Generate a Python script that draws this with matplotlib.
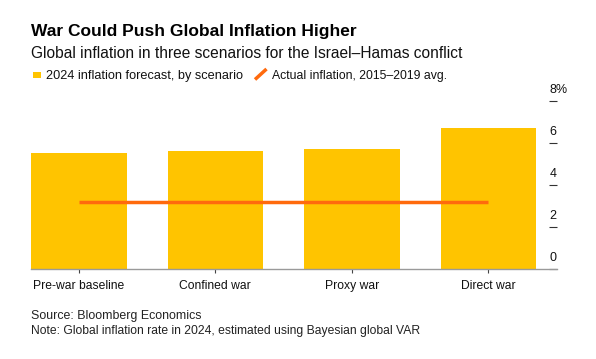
import matplotlib
matplotlib.use("Agg")
import matplotlib.pyplot as plt
from matplotlib.patches import Rectangle
from matplotlib.lines import Line2D
import numpy as np

plt.rcParams['font.family'] = ['Liberation Sans', 'DejaVu Sans']

# ---- data ----
categories = ["Pre-war baseline", "Confined war", "Proxy war", "Direct war"]
forecast_2024 = [5.52, 5.6, 5.7, 6.7]
actual_avg = 3.2
y_ticks = [0, 2, 4, 6, 8]
y_tick_labels = ["0", "2", "4", "6", "8%"]

title = "War Could Push Global Inflation Higher"
subtitle = "Global inflation in three scenarios for the Israel\u2013Hamas conflict"
legend_bar = "2024 inflation forecast, by scenario"
legend_line = "Actual inflation, 2015\u20132019 avg."
source = "Source: Bloomberg Economics"
note = "Note: Global inflation rate in 2024, estimated using Bayesian global VAR"

W, H = 596, 359
DPI = 100
BAR_C = "#FFC400"
LINE_C = "#FF6A0D"

fig = plt.figure(figsize=(W / DPI, H / DPI), dpi=DPI)

def fx(px):
    return px / W

def fy(py):
    return 1 - py / H

# axes: x from 31 to 556.7 px, baseline at y=268.7, 21 px per unit
ax_left, ax_right = 31, 556.7
y0 = 268.7
ppu = 21.0
ymax = 8.5
ax = fig.add_axes([fx(ax_left), fy(y0), (ax_right - ax_left) / W, ymax * ppu / H])

x = np.arange(len(categories))
ax.bar(x, forecast_2024, width=0.7, color=BAR_C, zorder=1)
ax.plot([x[0], x[-1]], [actual_avg, actual_avg], color=LINE_C, lw=2.5,
        solid_capstyle='butt', zorder=3)

ax.set_xlim(-0.35, 3.5)
ax.set_ylim(0, ymax)

for s in ["top", "left", "right"]:
    ax.spines[s].set_visible(False)
ax.spines["bottom"].set_color("#9a9a9a")
ax.spines["bottom"].set_linewidth(1.0)
ax.spines["bottom"].set_zorder(4)

ax.set_xticks(x)
ax.set_xticklabels(categories, fontsize=8.7, color="#111")
ax.tick_params(axis="x", direction="out", length=3.0, width=0.8, color="#444", pad=5.0)

ax.yaxis.tick_right()
ax.set_yticks(y_ticks)
ax.tick_params(axis="y", direction="in", length=5.8, width=0.8, color="#333",
               labelright=False, labelleft=False)

for v, lab in zip(y_ticks, y_tick_labels):
    ax.annotate(lab, xy=(1, v), xycoords=("axes fraction", "data"),
                xytext=(-7 * 0.72, 11 * 0.72), textcoords="offset points",
                ha="left", va="center", fontsize=9.0, color="#111")

# titles
fig.text(fx(31), fy(35.7), title, fontsize=12.5, fontweight="bold", color="#000",
         ha="left", va="baseline")
fig.text(fx(31), fy(58.3), subtitle, fontsize=11.2, color="#111",
         ha="left", va="baseline")

# legend
fig.patches.append(Rectangle((fx(33.3), fy(78.3)), 7.4 / W, 6.6 / H,
                             transform=fig.transFigure, color=BAR_C, lw=0))
fig.text(fx(45.6), fy(79.3), legend_bar, fontsize=9.2, color="#111",
         ha="left", va="baseline")
fig.lines.append(Line2D([fx(255), fx(266.5)], [fy(79.5), fy(69)],
                        transform=fig.transFigure, color=LINE_C, lw=2.5,
                        solid_capstyle="butt"))
fig.text(fx(272.5), fy(79.3), legend_line, fontsize=8.85, color="#111",
         ha="left", va="baseline")

# footer
fig.text(fx(31), fy(319.3), source, fontsize=8.9, color="#222", ha="left", va="baseline")
fig.text(fx(31), fy(334.3), note, fontsize=8.75, color="#222", ha="left", va="baseline")

fig.savefig("out.png", dpi=DPI, facecolor="white")
